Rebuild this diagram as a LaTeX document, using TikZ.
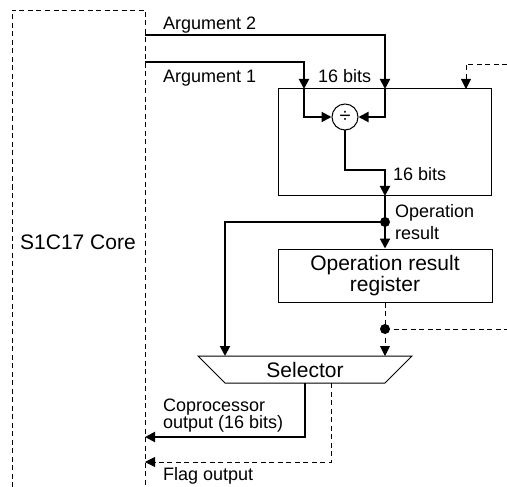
\documentclass[tikz,border=0pt]{standalone}
\usepackage{fontspec}
\setmainfont{Liberation Sans}
\usetikzlibrary{arrows.meta}
\tikzset{
  bus/.style={line width=2pt},
  busarrow/.style={bus,-{Triangle[length=10pt,width=10pt]}},
  dline/.style={line width=0.9pt,dash pattern=on 5pt off 3.5pt},
  darrow/.style={dline,-{Triangle[length=10pt,width=10pt]}},
  thinbox/.style={draw,line width=1pt,rectangle,inner sep=0pt},
  lbl/.style={inner sep=0pt,anchor=base west,font=\fontsize{18}{20}\selectfont},
  boxlbl/.style={font=\fontsize{21}{25}\selectfont,align=center},
  dotmark/.style={circle,fill,inner sep=0pt,minimum size=10pt}
}
\begin{document}
\begin{tikzpicture}[x=1pt,y=-1pt]
\useasboundingbox (0,0) rectangle (507,487);
% core
\draw[dline] (12,487) -- (12,10) -- (145,10) -- (145,487);
\node[lbl,font=\fontsize{21}{25}\selectfont] (core) at (20,250) {S1C17 Core};
\coordinate (coreA2) at (145,35);
\coordinate (coreA1) at (145,62);
\coordinate (coreCo) at (145,437);
\coordinate (coreFl) at (145,462);
% divider box
\node[thinbox,minimum width=213pt,minimum height=107pt] (div) at (384.5,142.5) {};
\node[draw,circle,line width=1pt,minimum size=26pt,inner sep=0pt,font=\fontsize{20}{22}\selectfont] (op) at (345,117) {÷};
% register
\node[thinbox,minimum width=214pt,minimum height=53pt,boxlbl] (reg) at (385,275.5) {Operation result\\[-4pt]register};
% selector
\draw[line width=1pt] (198,356) -- (412,356) -- (385,383) -- (225,383) -- cycle;
\node[inner sep=0pt,minimum width=160pt,minimum height=27pt,boxlbl] (sel) at (305,369.5) {Selector};
% arguments
\coordinate (a2top) at (385,89);
\coordinate (a1top) at (304,89);
\draw[busarrow] (coreA2) -| (a2top);
\draw[busarrow] (a2top) |- (op.east);
\draw[busarrow] (coreA1) -| (a1top);
\draw[busarrow] (a1top) |- (op.west);
\node[lbl] (arg2) at (163,30) {Argument 2};
\node[lbl] (arg1) at (163,83) {Argument 1};
\node[lbl] (b1) at (318,83) {16 bits};
% output of divider
\coordinate (divout) at (385,196);
\coordinate (bend) at (345,170);
\draw[busarrow] (op.south) -- (bend) -| (divout);
\node[lbl] (b2) at (393,181) {16 bits};
% to register
\node[dotmark] (d1) at (385,222) {};
\draw[busarrow] (divout) -- (reg.north);
\coordinate (selin1) at (225,356);
\draw[busarrow] (d1.center) -| (selin1);
\node[lbl] (opr1) at (395,218) {Operation};
\node[lbl] (opr2) at (395,240) {result};
% dashed from register
\node[dotmark] (d2) at (385,329) {};
\coordinate (selin2) at (385,356);
\draw[dline] (reg.south) -- (d2.center);
\draw[darrow] (d2.center) -- (selin2);
\draw[dline] (d2.center) -- (507,329);
% dashed control into divider
\coordinate (ctl) at (466,89);
\draw[darrow] (507,64) -| (ctl);
% coprocessor output
\coordinate (selout1) at (305,383);
\draw[busarrow] (selout1) |- (coreCo);
\node[lbl] (co1) at (163,411) {Coprocessor};
\node[lbl] (co2) at (163,428) {output (16 bits)};
% flag output
\coordinate (selout2) at (331,383);
\draw[darrow] (selout2) |- (coreFl);
\node[lbl] (fl) at (163,480) {Flag output};
\end{tikzpicture}
\end{document}
